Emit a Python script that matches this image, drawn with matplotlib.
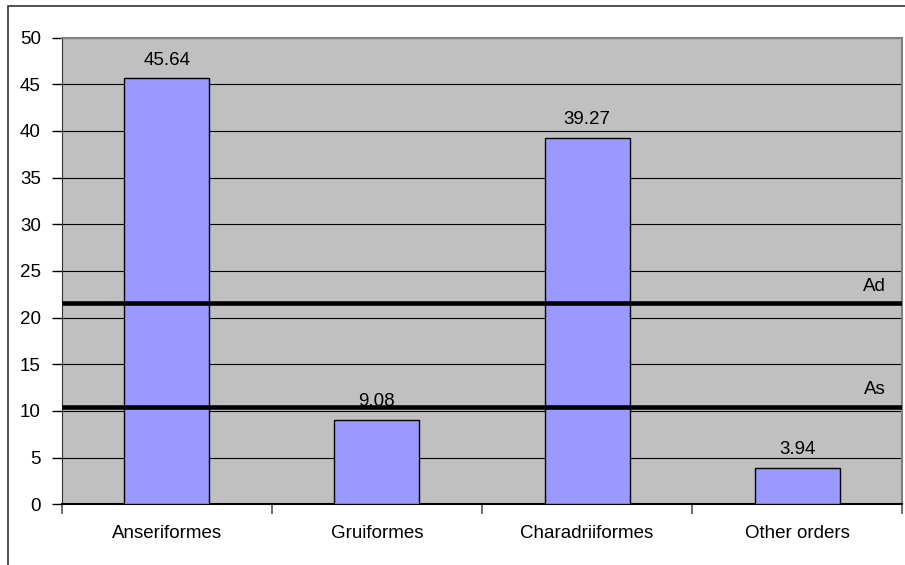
import matplotlib
matplotlib.use("Agg")
import matplotlib.pyplot as plt
from matplotlib.patches import Rectangle

orders = ["Anseriformes", "Gruiformes", "Charadriiformes", "Other orders"]
shares = [45.64, 9.08, 39.27, 3.94]
thresholds = [("Ad", 21.55), ("As", 10.45)]
yticks = [0, 5, 10, 15, 20, 25, 30, 35, 40, 45, 50]

plt.rcParams["font.family"] = ["Liberation Sans", "DejaVu Sans"]
plt.rcParams["font.size"] = 13.5

fig = plt.figure(figsize=(9.05, 5.65), dpi=100)
ax = fig.add_axes([61.7 / 905, 1 - 504.3 / 565, (902.3 - 61.7) / 905, (504.3 - 37.5) / 565])
ax.set_facecolor("#C0C0C0")

# outer chart frame (right and bottom edges fall outside the canvas)
fig.patches.append(Rectangle((7.5 / 905, -0.1), 1.2, 1.1 - 5.7 / 565,
                             transform=fig.transFigure, fill=False,
                             edgecolor="#333333", linewidth=1.2))

x = range(len(orders))
bars = ax.bar(x, shares, width=0.405, color="#9999FF", edgecolor="black",
              linewidth=1.0, zorder=3)
for xi, v in zip(x, shares):
    ax.text(xi, v + 1.0, f"{v:.2f}", ha="center", va="bottom", zorder=5)

for name, level in thresholds:
    ax.axhline(level, color="black", linewidth=3.3, zorder=4)
    ax.text(3.42, level + 0.9, name, ha="right", va="bottom", zorder=5)

ax.set_xlim(-0.5, 3.5)
ax.set_ylim(0, 50)
ax.set_yticks(yticks)
ax.yaxis.grid(True, color="black", linewidth=0.8)
ax.set_axisbelow(True)

ax.set_xticks(x)
ax.set_xticklabels(orders)
ax.tick_params(axis="x", length=0, pad=15)
ax.set_xticks([-0.5, 0.5, 1.5, 2.5, 3.5], minor=True)
ax.tick_params(axis="x", which="minor", length=7, width=1.2, color="#555555")
ax.tick_params(axis="y", length=7, width=1.0, pad=8)

for side in ["top", "right"]:
    ax.spines[side].set_color("#808080")
    ax.spines[side].set_linewidth(1.5)
ax.spines["left"].set_color("#333333")
ax.spines["bottom"].set_color("black")
ax.spines["bottom"].set_linewidth(1.5)

fig.savefig("out.png", dpi=100)
